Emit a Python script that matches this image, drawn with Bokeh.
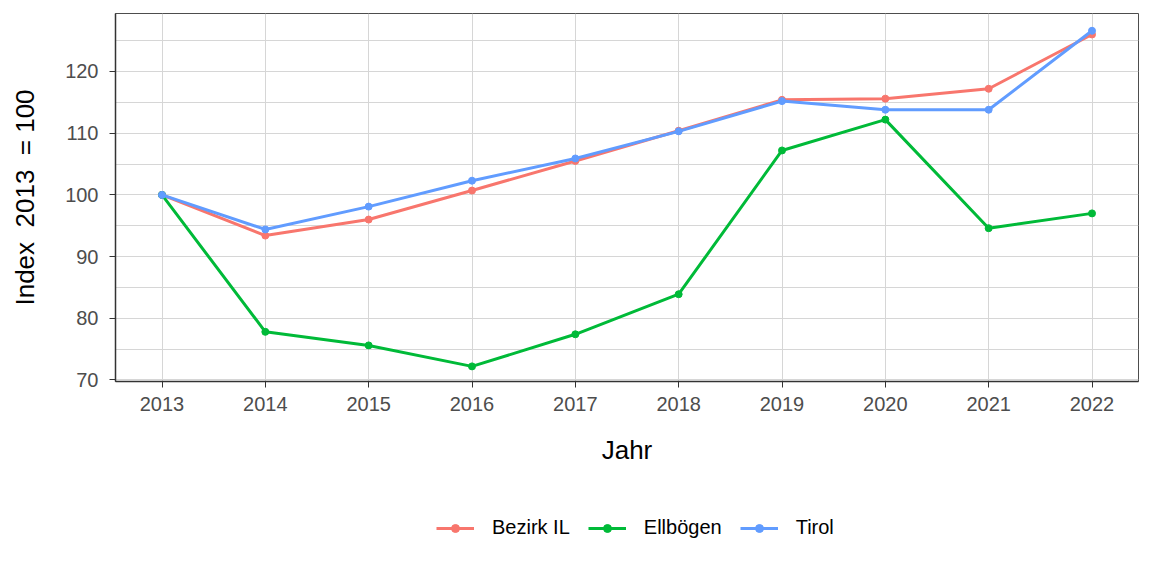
from bokeh.plotting import figure
from bokeh.layouts import column
from bokeh.models import Range1d, Legend, LegendItem, FixedTicker
from bokeh.embed import file_html
from bokeh.resources import INLINE

years = [2013, 2014, 2015, 2016, 2017, 2018, 2019, 2020, 2021, 2022]
bezirk_il = [100.0, 93.4, 96.0, 100.7, 105.5, 110.4, 115.4, 115.6, 117.2, 126.0]
ellboegen = [100.0, 77.8, 75.6, 72.2, 77.4, 83.9, 107.2, 112.2, 94.6, 97.0]
tirol = [100.0, 94.4, 98.1, 102.3, 105.9, 110.3, 115.2, 113.8, 113.8, 126.6]

series_names = ["Bezirk IL", "Ellbögen", "Tirol"]
series_values = [bezirk_il, ellboegen, tirol]
series_colors = ["#F8766D", "#00BA38", "#619CFF"]
y_ticks = [70, 80, 90, 100, 110, 120]

FONT = "Liberation Sans"

p = figure(width=1152, height=490, output_backend="svg", toolbar_location=None,
           x_range=Range1d(2012.55, 2022.45), y_range=Range1d(69.75, 129.4),
           min_border_left=115, min_border_right=14, min_border_top=13,
           min_border_bottom=109, background_fill_color="white",
           border_fill_color="white")

p.outline_line_color = "#4d4d4d"
p.outline_line_width = 1

# grid
p.xgrid.ticker = FixedTicker(ticks=years)
p.ygrid.ticker = FixedTicker(ticks=y_ticks, minor_ticks=[75, 85, 95, 105, 115, 125])
p.xgrid.grid_line_color = "#d6d6d6"
p.ygrid.grid_line_color = "#d6d6d6"
p.ygrid.minor_grid_line_color = "#d6d6d6"
p.xgrid.grid_line_width = 1
p.ygrid.grid_line_width = 1

# axes
p.xaxis.ticker = FixedTicker(ticks=years)
p.yaxis.ticker = FixedTicker(ticks=y_ticks)
for ax in (p.xaxis[0], p.yaxis[0]):
    ax.axis_line_color = "#333333"
    ax.axis_line_width = 1.5
    ax.major_tick_line_color = "#333333"
    ax.major_tick_line_width = 1
    ax.major_tick_out = 6
    ax.major_tick_in = 0
    ax.minor_tick_line_color = None
    ax.major_label_text_font = FONT
    ax.major_label_text_font_size = "20px"
    ax.major_label_text_color = "#4d4d4d"
    ax.axis_label_text_font = FONT
    ax.axis_label_text_font_size = "26px"
    ax.axis_label_text_font_style = "normal"
    ax.axis_label_text_color = "black"

p.xaxis.axis_label = "Jahr"
p.yaxis.axis_label = "Index \u00a02013 \u00a0= 100"
p.xaxis.major_label_standoff = 9
p.yaxis.major_label_standoff = 11
p.xaxis.axis_label_standoff = 21
p.yaxis.axis_label_standoff = 22

for name, vals, col in zip(series_names, series_values, series_colors):
    p.line(years, vals, line_color=col, line_width=3)
    p.scatter(years, vals, marker="circle", size=7, fill_color=col, line_color=col)

# legend strip (separate figure below the chart)
lf = figure(width=1152, height=86, output_backend="svg", toolbar_location=None,
            x_range=Range1d(0, 1), y_range=Range1d(0, 1),
            min_border_left=0, min_border_right=0, min_border_top=0,
            min_border_bottom=0, outline_line_color=None,
            background_fill_color="white", border_fill_color="white")
lf.axis.visible = False
lf.grid.visible = False
items = []
for name, vals, col in zip(series_names, series_values, series_colors):
    lr = lf.line(years, vals, line_color=col, line_width=3)
    sr = lf.scatter(years, vals, marker="circle", size=7, fill_color=col, line_color=col)
    items.append(LegendItem(label=name, renderers=[lr, sr]))

legend = Legend(items=items, orientation="horizontal", location=(321, 37),
                label_text_font=FONT, label_text_font_size="20px",
                label_text_color="black", glyph_width=38, glyph_height=20,
                label_standoff=18, spacing=18, border_line_color=None,
                background_fill_alpha=0, margin=0, padding=0)
lf.add_layout(legend, "center")

layout = column(p, lf, spacing=0)
open("out.html", "w").write(file_html(layout, INLINE))
